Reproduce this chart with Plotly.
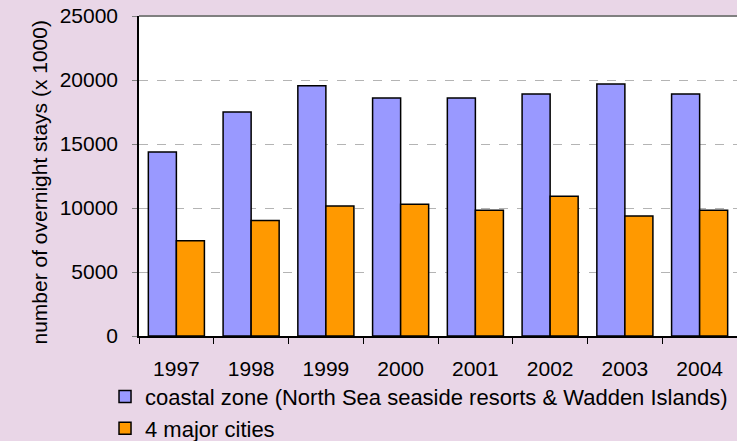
import plotly.graph_objects as go

# data (x 1000 overnight stays)
years = ["1997", "1998", "1999", "2000", "2001", "2002", "2003", "2004"]
coastal = [14380, 17500, 19560, 18590, 18590, 18900, 19690, 18900]
cities = [7450, 9030, 10160, 10290, 9820, 10910, 9380, 9820]

FONT = "Liberation Sans, Arial, sans-serif"

fig = go.Figure()

fig.add_trace(go.Bar(
    x=years, y=coastal,
    name="coastal zone (North Sea seaside resorts & Wadden Islands)",
    marker=dict(color="#9999FF", line=dict(color="black", width=1.5)),
    legendgroup="a",
))
fig.add_trace(go.Bar(
    x=years, y=cities,
    name="4 major cities",
    marker=dict(color="#FF9900", line=dict(color="black", width=1.5)),
    legendgroup="b",
))

fig.update_layout(
    width=737, height=441,
    margin=dict(l=139, r=0, t=16, b=105, autoexpand=False),
    paper_bgcolor="#E9D6E7",
    plot_bgcolor="white",
    barmode="group",
    bargap=0.25,
    bargroupgap=0,
    font=dict(family=FONT, size=21, color="black"),
    showlegend=True,
    legend=dict(
        xref="container", yref="container",
        x=0.1425, y=0.148, xanchor="left", yanchor="top",
        bgcolor="rgba(0,0,0,0)",
        font=dict(size=22),
        tracegroupgap=4,
        traceorder="normal",
    ),
    xaxis=dict(
        type="category",
        showline=True, linecolor="black", linewidth=1.5,
        ticks="outside", tickson="boundaries", ticklen=6, tickcolor="black",
        showgrid=False,
        tickfont=dict(size=21),
        ticklabelstandoff=13,
    ),
    yaxis=dict(
        range=[0, 25000],
        tickvals=[0, 5000, 10000, 15000, 20000, 25000],
        ticktext=["0", "5000", "10000", "15000", "20000", "25000"],
        showline=True, linecolor="black", linewidth=1.5,
        ticks="outside", ticklen=5, tickcolor="#808080",
        showgrid=True, gridcolor="#B4B4B4", griddash="dash", gridwidth=1,
        zeroline=False,
        tickfont=dict(size=21),
        ticklabelstandoff=10,
    ),
)

# y-axis title as a rotated annotation (sits left of the tick labels)
fig.add_annotation(
    text="number of overnight stays (x 1000)",
    xref="paper", yref="paper", x=-0.167, y=0.48,
    xanchor="center", yanchor="middle", textangle=-90,
    showarrow=False, font=dict(size=21),
)

# top border of the plot area
fig.add_shape(type="line", xref="paper", yref="paper", x0=0, x1=1, y0=1, y1=1,
              line=dict(color="#808080", width=2))

fig.write_html("out.html", config={"displayModeBar": False},
               post_script="document.body.style.margin='0';")
